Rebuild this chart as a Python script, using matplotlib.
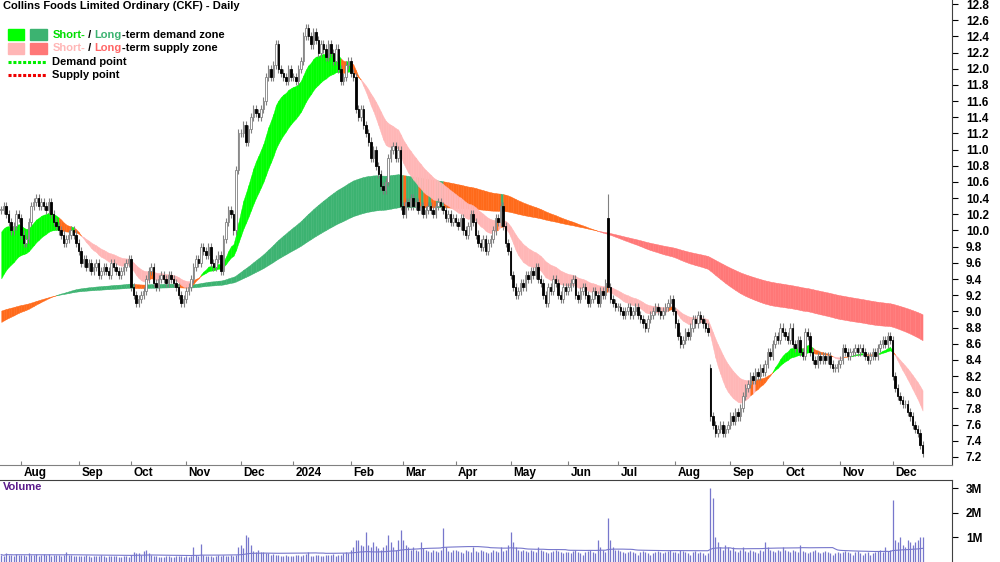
import matplotlib
matplotlib.use("Agg")
import matplotlib.pyplot as plt
from matplotlib.patches import Rectangle
import numpy as np
import pandas as pd

plt.rcParams['font.family'] = ['Liberation Sans', 'DejaVu Sans']

# daily closes, grouped by month
closes_by_month = [
    [10.25, 10.3, 10.2, 10.1, 10.0, 10.05, 10.2, 10.15],
    [9.95, 9.85, 9.9, 10.1, 10.3, 10.35, 10.4, 10.3, 10.35, 10.3, 10.25, 10.35, 10.2, 10.1, 10.05, 10.0, 9.95, 9.85, 9.9, 9.95, 10.0, 9.95, 9.85],
    [9.75, 9.6, 9.65, 9.55, 9.6, 9.5, 9.55, 9.6, 9.45, 9.5, 9.55, 9.5, 9.45, 9.6, 9.55, 9.5, 9.45, 9.5, 9.55, 9.6, 9.65],
    [9.3, 9.2, 9.1, 9.15, 9.2, 9.25, 9.4, 9.5, 9.55, 9.35, 9.3, 9.4, 9.45, 9.4, 9.35, 9.45, 9.4, 9.35, 9.3, 9.2, 9.1, 9.15],
    [9.25, 9.3, 9.4, 9.55, 9.65, 9.6, 9.8, 9.75, 9.7, 9.8, 9.6, 9.55, 9.65, 9.7, 9.5, 9.9, 10.1, 10.25, 10.2, 10.0, 10.75, 11.2],
    [11.2, 11.3, 11.1, 11.25, 11.4, 11.5, 11.45, 11.4, 11.5, 11.6, 11.9, 12.0, 11.9, 12.05, 12.3, 12.0, 11.95, 11.9, 11.85, 12.0, 11.9],
    [11.9, 11.85, 12.0, 12.1, 12.4, 12.5, 12.4, 12.3, 12.45, 12.35, 12.2, 12.3, 12.25, 12.15, 12.3, 12.2, 12.1, 12.25, 12.0, 11.85, 11.9, 12.05, 12.1],
    [11.95, 11.9, 11.5, 11.4, 11.5, 11.3, 11.2, 11.1, 10.9, 11.0, 10.8, 10.7, 10.55, 10.5, 10.6, 10.9, 11.0, 11.05, 10.9, 11.0, 10.3],
    [10.2, 10.35, 10.3, 10.4, 10.3, 10.35, 10.25, 10.3, 10.2, 10.25, 10.3, 10.25, 10.2, 10.3, 10.35, 10.3, 10.25, 10.15, 10.2, 10.1, 10.15],
    [10.1, 10.05, 10.15, 10.0, 9.95, 10.05, 10.2, 10.1, 9.95, 9.85, 9.8, 9.9, 9.75, 9.85, 9.9, 10.0, 10.15, 10.1, 10.3, 10.05, 9.85, 9.75],
    [9.45, 9.3, 9.2, 9.25, 9.35, 9.3, 9.45, 9.4, 9.5, 9.45, 9.55, 9.4, 9.35, 9.2, 9.1, 9.3, 9.25, 9.4, 9.35, 9.2, 9.15, 9.3, 9.25],
    [9.3, 9.35, 9.4, 9.2, 9.15, 9.25, 9.3, 9.2, 9.1, 9.15, 9.25, 9.2, 9.1, 9.25, 9.2, 9.35, 9.3, 9.15, 9.1, 9.05],
    [9.05, 9.0, 8.95, 9.0, 9.05, 8.95, 9.0, 9.05, 8.95, 8.9, 8.85, 8.8, 8.9, 8.95, 9.0, 9.05, 9.0, 8.95, 9.0, 9.05, 9.1, 9.15, 9.0],
    [8.85, 8.7, 8.6, 8.65, 8.75, 8.7, 8.8, 8.9, 8.85, 8.95, 8.9, 8.85, 8.8, 8.75, 7.7, 7.6, 7.5, 7.55, 7.6, 7.5, 7.55, 7.6],
    [7.7, 7.65, 7.75, 7.7, 7.8, 7.95, 8.05, 8.1, 8.2, 8.15, 8.25, 8.2, 8.3, 8.25, 8.35, 8.5, 8.45, 8.6, 8.7, 8.65, 8.8],
    [8.75, 8.7, 8.65, 8.8, 8.6, 8.55, 8.65, 8.5, 8.45, 8.75, 8.7, 8.5, 8.4, 8.35, 8.45, 8.4, 8.45, 8.4, 8.45, 8.35, 8.3, 8.3, 8.35],
    [8.4, 8.55, 8.5, 8.45, 8.5, 8.5, 8.55, 8.5, 8.55, 8.5, 8.45, 8.4, 8.45, 8.5, 8.45, 8.55, 8.6, 8.65, 8.6, 8.7, 8.65],
    [8.2, 8.05, 7.95, 7.9, 7.85, 7.85, 7.75, 7.7, 7.6, 7.55, 7.5, 7.35, 7.25],
]

# days where the open gapped away from the previous close: (month idx, day idx) -> (open, high)
gap_days = {(11, 16): (10.15, 10.4), (13, 14): (8.3, 8.3)}

# zone levels at the left edge of the chart (fast, slow)
short_seed = (9.95, 9.35)
long_seed = (8.85, 9.0)

# daily volume in thousands
volume_by_month = [
    [300, 250, 350, 280, 300, 260, 320, 290],
    [280, 300, 250, 350, 270, 300, 320, 260, 280, 310, 290, 330, 250, 270, 300, 280, 260, 290, 420, 300, 270, 250, 260],
    [240, 260, 230, 280, 250, 220, 260, 240, 230, 270, 250, 220, 240, 260, 230, 250, 220, 200, 240, 230, 210],
    [300, 420, 350, 380, 300, 450, 500, 380, 300, 250, 230, 200, 220, 210, 230, 250, 200, 220, 240, 260, 230, 220],
    [240, 220, 260, 600, 300, 250, 750, 280, 260, 240, 230, 220, 260, 300, 260, 280, 250, 230, 270, 250, 300, 600],
    [700, 550, 1100, 1000, 700, 450, 400, 500, 400, 420, 380, 350, 300, 320, 300, 280, 250, 260, 300, 240, 250],
    [250, 280, 300, 250, 280, 320, 400, 260, 240, 280, 300, 260, 250, 280, 270, 300, 320, 260, 280, 300, 350, 400, 380],
    [500, 600, 900, 900, 700, 650, 1200, 700, 600, 800, 650, 550, 500, 600, 700, 1100, 800, 600, 500, 900, 1300],
    [900, 700, 600, 500, 600, 500, 450, 800, 550, 500, 450, 400, 500, 450, 400, 500, 1400, 600, 450, 400, 500],
    [500, 450, 400, 350, 500, 450, 400, 600, 450, 400, 500, 450, 400, 350, 400, 500, 450, 400, 600, 450, 500, 700],
    [1200, 800, 600, 500, 450, 500, 450, 400, 500, 450, 400, 600, 500, 450, 400, 350, 400, 450, 500, 450, 400, 350, 400],
    [400, 350, 450, 500, 400, 350, 300, 400, 450, 500, 400, 350, 900, 600, 500, 400, 1800, 900, 600, 500],
    [500, 450, 400, 350, 400, 450, 400, 350, 300, 400, 450, 400, 350, 300, 350, 400, 450, 400, 350, 400, 450, 500, 400],
    [400, 350, 500, 450, 400, 350, 300, 400, 450, 350, 400, 350, 300, 350, 3000, 2600, 1000, 800, 600, 500, 700, 600],
    [500, 600, 450, 400, 500, 600, 450, 400, 500, 450, 400, 350, 500, 450, 800, 600, 500, 450, 400, 500, 450],
    [600, 500, 450, 400, 500, 450, 400, 700, 450, 400, 350, 400, 450, 500, 400, 350, 400, 450, 400, 350, 300, 350, 400],
    [350, 400, 450, 400, 350, 300, 400, 450, 350, 300, 350, 400, 300, 350, 400, 450, 500, 400, 600, 450, 500],
    [2500, 900, 800, 1000, 700, 600, 900, 800, 700, 800, 900, 1000, 1000],
]

month_labels = ["Aug", "Sep", "Oct", "Nov", "Dec", "2024", "Feb", "Mar", "Apr", "May",
                "Jun", "Jul", "Aug", "Sep", "Oct", "Nov", "Dec"]
price_ticks = [7.2, 7.4, 7.6, 7.8, 8.0, 8.2, 8.4, 8.6, 8.8, 9.0, 9.2, 9.4, 9.6, 9.8, 10.0,
               10.2, 10.4, 10.6, 10.8, 11.0, 11.2, 11.4, 11.6, 11.8, 12.0, 12.2, 12.4, 12.6, 12.8]

close = np.array([c for m in closes_by_month for c in m])
vol = np.array([v for m in volume_by_month for v in m]) * 1000.0
n = len(close)
x = np.arange(n)
opens = np.r_[close[0], close[:-1]]
highs = np.maximum(opens, close) + 0.05
lows = np.minimum(opens, close) - 0.05
starts = np.cumsum([0] + [len(m) for m in closes_by_month])
for (mi, di), (o, h) in gap_days.items():
    k = starts[mi] + di
    opens[k] = o
    highs[k] = max(h, o) + 0.05
    lows[k] = min(o, close[k]) - 0.05


def ema(values, span, seed):
    a = 2.0 / (span + 1)
    out = np.empty(len(values))
    prev = seed
    for i, v in enumerate(values):
        prev = prev + a * (v - prev)
        out[i] = prev
    return out


short_f, short_s = ema(close, 15, short_seed[0]), ema(close, 30, short_seed[1])
long_f, long_s = ema(close, 150, long_seed[0]), ema(close, 250, long_seed[1])

ORANGE = "#ff6a1a"


def zone_colors(fast, slow, up_col, down_col):
    cols = []
    for i in range(n):
        lo, hi = min(fast[i], slow[i]), max(fast[i], slow[i])
        if fast[i] >= slow[i] and close[i] >= lo:
            cols.append(up_col)
        elif fast[i] < slow[i] and close[i] <= hi:
            cols.append(down_col)
        else:
            cols.append(ORANGE)
    return cols


fig = plt.figure(figsize=(10, 5.62), dpi=100)
ax = fig.add_axes([0, 1 - 465 / 562, 0.952, 465 / 562])
axv = fig.add_axes([0, 0, 0.952, 82 / 562])

for fast, slow, up, dn in [(long_f, long_s, "#3cb371", "#ff7777"),
                           (short_f, short_s, "#00ff00", "#ffb6b6")]:
    cols = zone_colors(fast, slow, up, dn)
    for i in range(n - 1):
        ax.fill_between([i, i + 1], [fast[i], fast[i + 1]], [slow[i], slow[i + 1]],
                        color=cols[i], lw=0.3, edgecolor=cols[i])

w = 0.6
for i in range(n):
    ax.vlines(i, lows[i], highs[i], color="#808080", lw=0.8, zorder=3)
    up = close[i] >= opens[i]
    bot = min(opens[i], close[i])
    hgt = max(abs(close[i] - opens[i]), 0.01)
    ax.add_patch(Rectangle((i - w / 2, bot), w, hgt, facecolor="white" if up else "black",
                           edgecolor="#808080" if up else "black", lw=0.6, zorder=4))

ax.set_xlim(-0.5, 952 / 2.5)
ax.set_ylim(7.10, 12.85)
ax.yaxis.tick_right()
ax.set_yticks(price_ticks)
ax.set_yticklabels([f"{t:.1f}" for t in price_ticks], fontsize=8.5, fontweight="bold")
ax.tick_params(axis="y", direction="out", length=4, pad=6)
for sp in ["top", "left"]:
    ax.spines[sp].set_visible(False)
ax.spines["right"].set_color("#404040")
ax.spines["bottom"].set_color("#808080")

month_starts = starts[1:-1]
ax.set_xticks(month_starts)
ax.set_xticklabels([])
ax.tick_params(axis="x", direction="in", length=3, color="#808080")
for ms, lab in zip(month_starts, month_labels):
    ax.text(ms + 1, -0.004, lab, transform=ax.get_xaxis_transform(), ha="left", va="top",
            fontsize=8.5, fontweight="bold")

FS = 8
ax.text(0.003, 0.997, "Collins Foods Limited Ordinary (CKF) - Daily", transform=ax.transAxes,
        ha="left", va="top", fontsize=FS, fontweight="bold")
lx = 0.008
for row, (c1, c2, w1, w2, t1, t2) in enumerate([
        ("#00ff00", "#3cb371", "Short-", "Long", "#00dd00", "#3cb371"),
        ("#ffb6b6", "#ff7777", "Short-", "Long", "#ffb6b6", "#ff6666")]):
    yy = 0.913 - row * 0.029
    ax.add_patch(Rectangle((lx, yy), 0.017, 0.024, transform=ax.transAxes, color=c1, clip_on=False))
    ax.add_patch(Rectangle((lx + 0.024, yy), 0.017, 0.024, transform=ax.transAxes, color=c2, clip_on=False))
    tail = "-term demand zone" if row == 0 else "-term supply zone"
    tx = ax.text(lx + 0.047, yy + 0.012, w1, transform=ax.transAxes, va="center", fontsize=FS,
                 fontweight="bold", color=t1)
    tx = ax.annotate(" / ", xycoords=tx, xy=(1, 0), va="bottom", fontsize=FS, fontweight="bold")
    tx = ax.annotate(w2, xycoords=tx, xy=(1, 0), va="bottom", fontsize=FS, fontweight="bold", color=t2)
    ax.annotate(tail, xycoords=tx, xy=(1, 0), va="bottom", fontsize=FS, fontweight="bold")
for row, (c, lab) in enumerate([("#00ee00", "Demand point"), ("#ee0000", "Supply point")]):
    yy = 0.866 - row * 0.028
    ax.plot([lx, lx + 0.041], [yy, yy], transform=ax.transAxes, color=c, lw=2.2, ls=(0, (1, 0.6)))
    ax.text(lx + 0.047, yy, lab, transform=ax.transAxes, va="center", fontsize=FS, fontweight="bold")

# volume panel
vcol = "#7777cc"
axv.vlines(x, 0, vol, color=vcol, lw=0.9)
axv.plot(x, pd.Series(vol).rolling(50, min_periods=1).mean(), color=vcol, lw=0.8)
axv.set_xlim(-0.5, 952 / 2.5)
axv.set_ylim(0, 3.33e6)
axv.yaxis.tick_right()
axv.set_yticks([1e6, 2e6, 3e6])
axv.set_yticklabels(["1M", "2M", "3M"], fontsize=8.5, fontweight="bold")
axv.tick_params(axis="y", direction="out", length=4, pad=6)
axv.set_xticks([])
for sp in ["left", "bottom"]:
    axv.spines[sp].set_visible(False)
axv.spines["top"].set_color("#404040")
axv.spines["right"].set_color("#404040")
axv.text(0.003, 0.97, "Volume", transform=axv.transAxes, ha="left", va="top", fontsize=FS,
         fontweight="bold", color="#5a1a8a")

fig.savefig("out.png", dpi=100)
